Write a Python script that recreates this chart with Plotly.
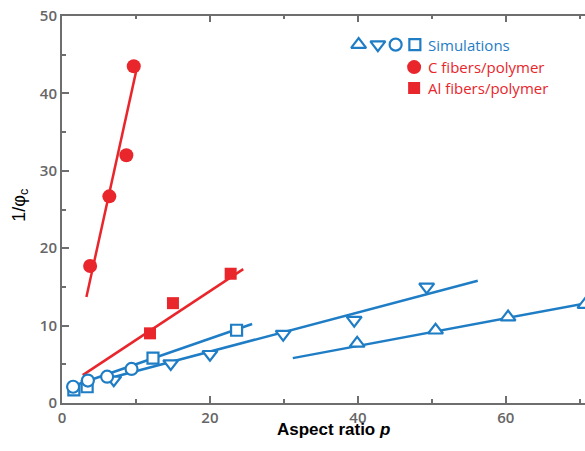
import plotly.graph_objects as go

# ---- data ----
c_fib_x = [3.8, 6.4, 8.7, 9.7]
c_fib_y = [17.7, 26.7, 32.0, 43.5]
c_fit_x = [3.3, 10.1]
c_fit_y = [13.7, 43.2]

al_fib_x = [11.9, 15.0, 22.8]
al_fib_y = [9.0, 12.9, 16.7]
al_fit_x = [2.8, 24.5]
al_fit_y = [3.6, 17.3]

sq_x = [1.6, 3.4, 12.3, 23.6]
sq_y = [1.7, 2.1, 5.8, 9.4]
sq_fit_x = [1.5, 25.7]
sq_fit_y = [2.2, 10.2]

circ_x = [1.5, 3.5, 6.1, 9.4]
circ_y = [2.1, 2.9, 3.4, 4.4]

dtri_x = [7.0, 14.7, 20.0, 29.9, 39.5, 49.3]
dtri_y = [3.0, 5.1, 6.3, 8.9, 10.7, 15.0]
dtri_fit_x = [6.0, 56.2]
dtri_fit_y = [3.1, 15.8]

utri_x = [39.9, 50.5, 60.3, 70.7]
utri_y = [7.7, 9.4, 11.1, 12.7]
utri_fit_x = [31.2, 70.9]
utri_fit_y = [5.8, 12.9]

x_ticks = [0, 20, 40, 60]
y_ticks = [0, 10, 20, 30, 40, 50]
X_RANGE = [0, 70.7]

# legend glyph anchors (data units)
leg_sim_x = [40.1, 42.7, 45.1, 47.7]
leg_sim_y = [46.3, 46.3, 46.3, 46.3]
leg_red_x = 47.6
leg_c_y = 43.4
leg_al_y = 40.7
leg_text_x = 49.2
legend_labels = ["Simulations", "C fibers/polymer", "Al fibers/polymer"]

BLUE = "#1f7dc5"
RED = "#e8262c"
AXC = "#6e6e6e"
TICKC = "#666666"

fig = go.Figure()

def line(x, y, color):
    fig.add_trace(go.Scatter(x=x, y=y, mode="lines",
                             line=dict(color=color, width=2.5),
                             hoverinfo="skip", showlegend=False, cliponaxis=True))

line(c_fit_x, c_fit_y, RED)
line(al_fit_x, al_fit_y, RED)
line(sq_fit_x, sq_fit_y, BLUE)
line(dtri_fit_x, dtri_fit_y, BLUE)
line(utri_fit_x, utri_fit_y, BLUE)

def open_markers(x, y, symbol, size):
    fig.add_trace(go.Scatter(x=x, y=y, mode="markers",
                             marker=dict(symbol=symbol, size=size, color="white", opacity=1,
                                         line=dict(color=BLUE, width=2.2)),
                             showlegend=False, cliponaxis=False))

open_markers(utri_x, utri_y, "triangle-up", 13)
open_markers(dtri_x, dtri_y, "triangle-down", 13)
open_markers(sq_x, sq_y, "square", 11)
open_markers(circ_x, circ_y, "circle", 12)

fig.add_trace(go.Scatter(x=c_fib_x, y=c_fib_y, mode="markers",
                         marker=dict(symbol="circle", size=14, color=RED, opacity=1),
                         showlegend=False))
fig.add_trace(go.Scatter(x=al_fib_x, y=al_fib_y, mode="markers",
                         marker=dict(symbol="square", size=12, color=RED, opacity=1),
                         showlegend=False))

# custom legend glyphs
fig.add_trace(go.Scatter(x=leg_sim_x, y=leg_sim_y, mode="markers",
                         marker=dict(symbol=["triangle-up", "triangle-down", "circle", "square"],
                                     size=[13, 13, 12, 11], color="white", opacity=1,
                                     line=dict(color=BLUE, width=2.2)),
                         showlegend=False, hoverinfo="skip"))
fig.add_trace(go.Scatter(x=[leg_red_x], y=[leg_c_y], mode="markers",
                         marker=dict(symbol="circle", size=14, color=RED, opacity=1,
                                     line=dict(width=0)),
                         showlegend=False, hoverinfo="skip"))
fig.add_trace(go.Scatter(x=[leg_red_x], y=[leg_al_y], mode="markers",
                         marker=dict(symbol="square", size=12, color=RED, opacity=1,
                                     line=dict(width=0)),
                         showlegend=False, hoverinfo="skip"))

# invisible trace to activate the top axis (inside ticks)
fig.add_trace(go.Scatter(x=X_RANGE, y=[None, None], xaxis="x2", mode="lines",
                         showlegend=False, hoverinfo="skip"))

for label, yy, col in zip(legend_labels, [leg_sim_y[0], leg_c_y, leg_al_y], [BLUE, RED, RED]):
    fig.add_annotation(x=leg_text_x, y=yy, xref="x", yref="y", text=label,
                       showarrow=False, xanchor="left", yanchor="middle",
                       font=dict(family="Open Sans", size=15, color=col))

# axis titles
fig.add_annotation(x=0.52, y=-0.068, xref="paper", yref="paper",
                   text="Aspect ratio <i>p</i>", showarrow=False,
                   xanchor="center", yanchor="middle",
                   font=dict(family="Liberation Sans", size=17, color="black", weight="bold"))
fig.add_annotation(x=-0.08, y=0.51, xref="paper", yref="paper",
                   text="1/φ<sub>c</sub>", showarrow=False, textangle=-90,
                   xanchor="center", yanchor="middle",
                   font=dict(family="Liberation Sans", size=18, color="black"))

tickfont = dict(family="Open Sans", size=15, color=TICKC, weight=600)

fig.update_layout(
    width=585, height=451,
    margin=dict(l=62, r=0, t=16, b=48),
    paper_bgcolor="white", plot_bgcolor="white",
    showlegend=False,
    xaxis=dict(range=X_RANGE, tickvals=x_ticks, ticks="inside", ticklen=7,
               tickwidth=2, tickcolor=AXC, showline=True, linecolor=AXC, linewidth=2,
               mirror=True, showgrid=False, zeroline=False, tickfont=tickfont,
               automargin=False,
               minor=dict(dtick=10, ticks="inside", ticklen=4, tickwidth=2, tickcolor=AXC)),
    xaxis2=dict(range=X_RANGE, overlaying="x", side="top", tickvals=x_ticks,
                ticks="inside", ticklen=6, tickwidth=2, tickcolor=AXC,
                showticklabels=False, showline=False, showgrid=False, zeroline=False,
                automargin=False,
                minor=dict(dtick=10, ticks="inside", ticklen=3, tickwidth=2, tickcolor=AXC)),
    yaxis=dict(range=[0, 50], tickvals=y_ticks, ticks="inside", ticklen=7,
               tickwidth=2, tickcolor=AXC, showline=True, linecolor=AXC, linewidth=2,
               showgrid=False, zeroline=False, tickfont=tickfont, automargin=False,
               minor=dict(dtick=5, ticks="inside", ticklen=4, tickwidth=2, tickcolor=AXC)),
)

fig.write_html("out.html", config={"displayModeBar": False},
               post_script="document.body.style.margin='0';document.body.style.overflow='hidden';")
